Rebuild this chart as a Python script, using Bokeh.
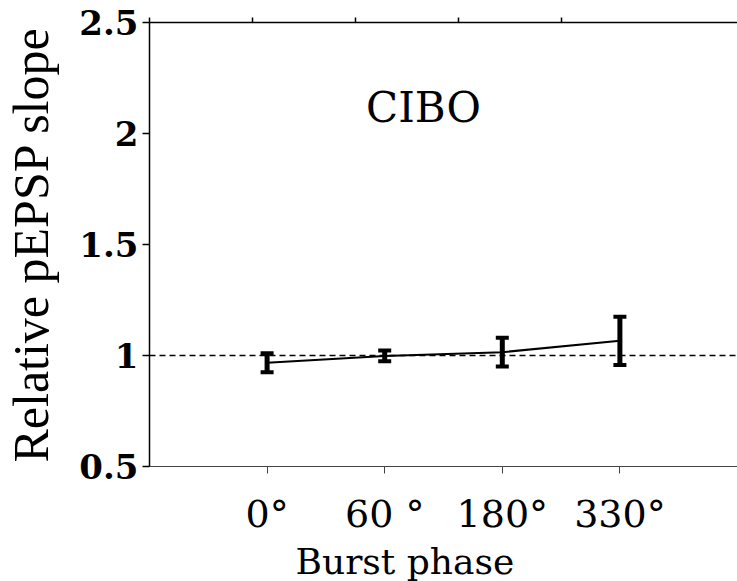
from bokeh.plotting import figure
from bokeh.models import (ColumnDataSource, Whisker, TeeHead, Span, Label, Title,
                          FixedTicker, LinearAxis, Range1d)
from bokeh.embed import file_html
from bokeh.resources import INLINE

# ---- data ----
phases = ["0°", "60 °", "180°", "330°"]
means = [0.967, 0.998, 1.015, 1.066]
errors = [0.043, 0.024, 0.065, 0.109]
y_ticks = [0.5, 1, 1.5, 2, 2.5]
y_tick_labels = ["0.5", "1", "1.5", "2", "2.5"]
top_ticks = [0, 1, 2, 3, 4]
baseline = 1.0
title_text = "CIBO"
x_label = "Burst phase"
y_label = "Relative pEPSP slope"

xs = list(range(1, len(phases) + 1))
src = ColumnDataSource(dict(
    x=xs, y=means,
    upper=[m + e for m, e in zip(means, errors)],
    lower=[m - e for m, e in zip(means, errors)],
))

SERIF = "DejaVu Serif"

p = figure(width=737, height=581, output_backend="svg", toolbar_location=None,
           x_range=Range1d(0, 5.0), y_range=Range1d(0.5, 2.5),
           min_border_left=147, min_border_right=0, min_border_top=22,
           min_border_bottom=115, x_axis_location="below")
p.outline_line_color = None
p.grid.visible = False
p.background_fill_color = "white"
p.border_fill_color = "white"

# left axis
ya = p.yaxis[0]
ya.ticker = FixedTicker(ticks=y_ticks)
ya.major_label_overrides = {t: l for t, l in zip(y_ticks, y_tick_labels)}
ya.minor_tick_line_color = None
ya.major_tick_out = 7
ya.major_tick_in = 0
ya.axis_line_width = 1.5
ya.axis_line_color = "black"
ya.major_tick_line_width = 1.5
ya.major_tick_line_color = "black"
ya.major_label_text_font = SERIF
ya.major_label_text_font_style = "bold"
ya.major_label_text_font_size = "34px"
ya.major_label_text_color = "black"
ya.major_label_standoff = 4
ya.axis_label = y_label
ya.axis_label_text_font = "Liberation Serif"
ya.axis_label_text_font_style = "normal"
ya.axis_label_text_font_size = "50px"
ya.axis_label_text_color = "black"
ya.axis_label_standoff = 17

# bottom axis
xa = p.xaxis[0]
xa.ticker = FixedTicker(ticks=xs)
xa.major_label_overrides = {x: l for x, l in zip(xs, phases)}
xa.minor_tick_line_color = None
xa.major_tick_out = 7
xa.major_tick_in = 0
xa.axis_line_color = "#444444"
xa.major_tick_line_color = "#444444"
xa.major_label_text_font = SERIF
xa.major_label_text_font_size = "38px"
xa.major_label_text_color = "black"
xa.major_label_standoff = 18

# x axis title, placed below the axis and left-offset as in the reference
p.add_layout(Title(text=x_label, align="left", offset=146, standoff=0,
                   text_font=SERIF, text_font_size="36px",
                   text_font_style="normal", text_color="black"), "below")

# top axis (decorative ticks only, no labels)
p.extra_x_ranges = {"top": Range1d(0, 5.71)}
ta = LinearAxis(x_range_name="top", ticker=FixedTicker(ticks=[], minor_ticks=top_ticks))
ta.major_tick_line_color = None
ta.minor_tick_out = 5
ta.minor_tick_in = 0
ta.minor_tick_line_width = 1.5
ta.minor_tick_line_color = "black"
ta.axis_line_width = 1.5
ta.axis_line_color = "black"
p.add_layout(ta, "above")

# reference line
p.add_layout(Span(location=baseline, dimension="width", line_color="black",
                  line_dash="6 4", line_width=1.5))

# mean line
p.line("x", "y", source=src, line_color="black", line_width=2)

# error bars
p.add_layout(Whisker(base="x", upper="upper", lower="lower", source=src,
                     line_color="black", line_width=5,
                     upper_head=TeeHead(size=13, line_width=4, line_color="black"),
                     lower_head=TeeHead(size=13, line_width=4, line_color="black")))

# panel title
p.add_layout(Label(x=2.33, y=2.117, text=title_text, text_align="center",
                   text_baseline="middle", text_font=SERIF,
                   text_font_size="42px", text_color="black"))

open("out.html", "w").write(file_html(p, INLINE))
